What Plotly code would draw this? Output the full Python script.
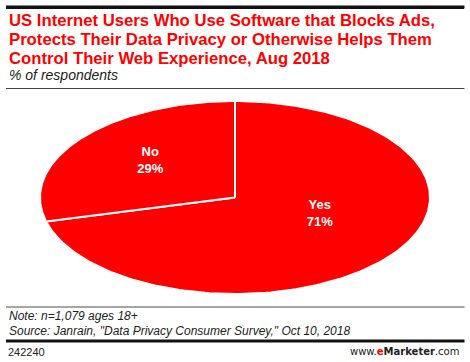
import numpy as np
import plotly.graph_objects as go

# ---- data ----
categories = ["Yes", "No"]
values = [71, 29]

title_lines = [
    "US Internet Users Who Use Software that Blocks Ads,",
    "Protects Their Data Privacy or Otherwise Helps Them",
    "Control Their Web Experience, Aug 2018",
]
subtitle = "% of respondents"
note = "Note: n=1,079 ages 18+"
source = 'Source: Janrain, "Data Privacy Consumer Survey," Oct 10, 2018'
chart_id = "242240"

# ---- layout constants (pixel space) ----
W, H = 470, 362
CX, CY, RX, RY = 235, 197.5, 195, 96.5
RED = "#ff0000"

fig = go.Figure()

total = sum(values)
start = 0.0
for cat, v in zip(categories, values):
    frac = v / total
    a0, a1 = start * 2 * np.pi, (start + frac) * 2 * np.pi
    t = np.linspace(a0, a1, 200)
    xs = np.concatenate([[CX], CX + RX * np.sin(t), [CX]])
    ys = np.concatenate([[CY], CY - RY * np.cos(t), [CY]])
    fig.add_trace(go.Scatter(x=xs, y=ys, mode="lines", fill="toself",
                             fillcolor=RED, line=dict(color="white", width=2),
                             hoverinfo="skip", showlegend=False))
    start += frac

# labels
start = 0.0
for cat, v in zip(categories, values):
    frac = v / total
    mid = (start + frac / 2) * 2 * np.pi
    lx = CX + 0.55 * RX * np.sin(mid)
    ly = CY - 0.45 * RY * np.cos(mid) - 10
    fig.add_trace(go.Scatter(x=[lx], y=[ly], mode="text",
                             text=[f"<b>{cat}<br>{v}%</b>"],
                             textposition="middle center",
                             textfont=dict(color="white", size=13, family="Liberation Sans"),
                             hoverinfo="skip", showlegend=False))
    start += frac

# horizontal rules (decorative)
rules = [(88.5, "#444", 1), (307, "#888", 1.5), (341, "#111", 3)]
for yy, col, wd in rules:
    fig.add_trace(go.Scatter(x=[6, 464.5], y=[yy, yy], mode="lines",
                             line=dict(color=col, width=wd),
                             hoverinfo="skip", showlegend=False))

annots = []
# top rule as a filled annotation box
annots.append(dict(x=6, y=7, xref="x", yref="y", text="", showarrow=False,
                   xanchor="left", yanchor="middle", width=458, height=3,
                   bgcolor="#111", borderpad=0, borderwidth=0))
for i, line in enumerate(title_lines):
    annots.append(dict(x=7, y=20 + i * 19, text=f"<b>{line}</b>", showarrow=False,
                       xanchor="left", yanchor="middle",
                       font=dict(family="Liberation Sans", size=16.7, color=RED)))
annots.append(dict(x=7, y=75, text=f"<i>{subtitle}</i>", showarrow=False,
                   xanchor="left", yanchor="middle",
                   font=dict(family="Liberation Sans", size=14, color="#222")))
annots.append(dict(x=7, y=316, text=f"<i>{note}</i>", showarrow=False,
                   xanchor="left", yanchor="middle",
                   font=dict(family="Liberation Sans", size=12, color="#222")))
annots.append(dict(x=7, y=331, text=f"<i>{source}</i>", showarrow=False,
                   xanchor="left", yanchor="middle",
                   font=dict(family="Liberation Sans", size=12, color="#222")))
annots.append(dict(x=6, y=352, text=chart_id, showarrow=False,
                   xanchor="left", yanchor="middle",
                   font=dict(family="Liberation Sans", size=11, color="#222")))
annots.append(dict(x=461, y=351.5,
                   text="www.<b><span style='color:#ff0000'>e</span>Marketer</b>.com",
                   showarrow=False, xanchor="right", yanchor="middle",
                   font=dict(family="DejaVu Sans", size=10, color="#222")))

shapes = [dict(type="line", xref="x", yref="y", x0=6, x1=464.5, y0=7, y1=7,
               line=dict(color="#111", width=3), layer="above")]

fig.update_layout(
    width=W, height=H, margin=dict(l=0, r=0, t=0, b=0),
    paper_bgcolor="white", plot_bgcolor="white",
    xaxis=dict(range=[0, W], visible=False, fixedrange=True),
    yaxis=dict(range=[H, 0], visible=False, fixedrange=True),
    annotations=annots, shapes=shapes, showlegend=False,
)

fig.write_html("out.html", config={"displayModeBar": False},
               post_script="document.body.style.margin='0';document.body.style.overflow='hidden';window.scrollTo(0,0);")
